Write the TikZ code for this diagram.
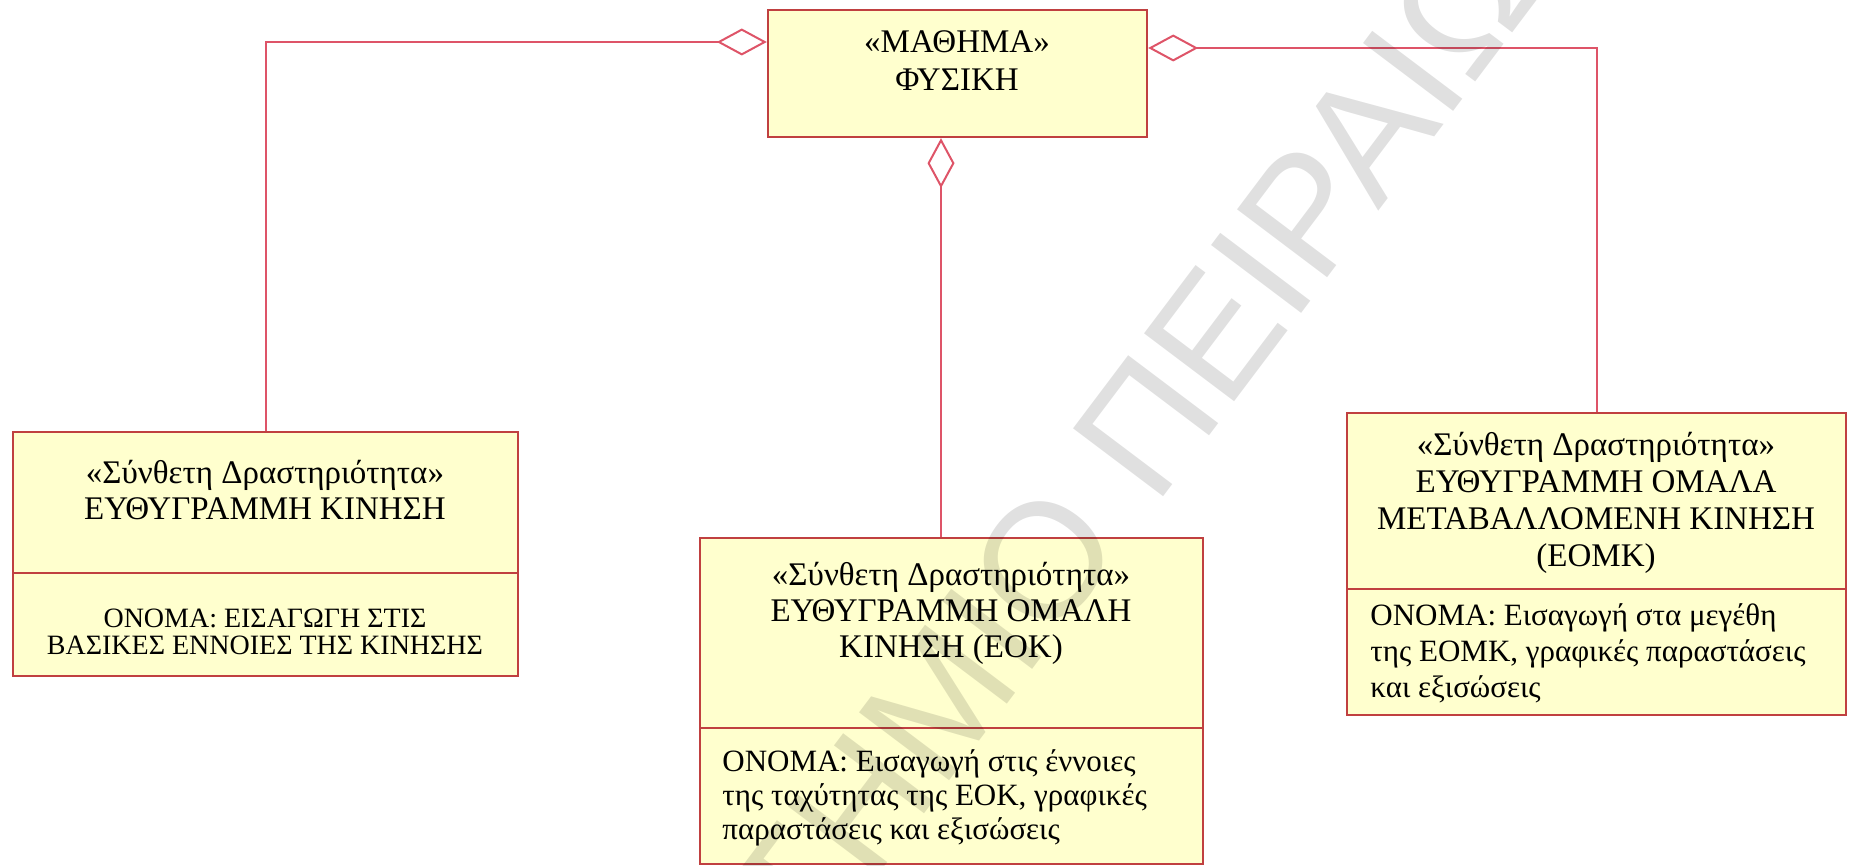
\documentclass[tikz,border=0pt]{standalone}
\usepackage{fontspec}
\setmainfont{Liberation Serif}
\newfontfamily\wmfont{Liberation Sans}
\usepackage{tikz}
\usetikzlibrary{arrows.meta}
\definecolor{boxfill}{RGB}{255,255,206}
\definecolor{boxline}{RGB}{192,64,64}
\definecolor{aggline}{RGB}{222,84,104}
\tikzset{
  umlbox/.style={draw=boxline, fill=boxfill, line width=1.2pt, inner sep=0pt},
  hdrtext/.style={align=center, inner sep=0pt, font=\fontsize{16.5}{18}\selectfont},
  attrtext/.style={align=left, anchor=west, inner sep=0pt, font=\fontsize{15.5}{17}\selectfont},
  aggr/.style={draw=aggline, line width=1pt, {Diamond[open,length=25pt,width=13.5pt]}-},
  watermark/.style={text=black, text opacity=0.12, inner sep=0pt, font=\wmfont\fontsize{82}{90}\selectfont}
}
\newcommand{\compart}[4]{ \node[umlbox, minimum width=#3, minimum height=#4] (#1) at (#2) {};}

\begin{document}
\begin{tikzpicture}[x=0.5pt,y=-0.5pt]
        \useasboundingbox (0,0) rectangle (1850,866);
        \clip (0,0) rectangle (1850,866);
        % mathima
        \compart{mathima}{957.5,73.5}{189.5pt}{63.5pt}
        \node[hdrtext, font=\fontsize{16.5}{19}\selectfont] (mathimatxt) at (957,61) {«ΜΑΘΗΜΑ»\\ΦΥΣΙΚΗ};
        % box1
        \compart{eukin}{265.5,502.5}{252.5pt}{70.5pt}
        \compart{eukinattr}{265.5,624.5}{252.5pt}{51.5pt}
        \node[hdrtext] (eukintxt) at (265,490) {«Σύνθετη Δραστηριότητα»\\ΕΥΘΥΓΡΑΜΜΗ ΚΙΝΗΣΗ};
        \node[hdrtext, font=\fontsize{14}{13.5}\selectfont] (eukinattrtxt) at (265,632) {ΟΝΟΜΑ: ΕΙΣΑΓΩΓΗ ΣΤΙΣ\\ΒΑΣΙΚΕΣ ΕΝΝΟΙΕΣ ΤΗΣ ΚΙΝΗΣΗΣ};
        % box2
        \compart{eok}{951.5,633}{251.5pt}{95pt}
        \compart{eokattr}{951.5,796}{251.5pt}{68pt}
        \node[hdrtext] (eoktxt) at (951,613) {«Σύνθετη Δραστηριότητα»\\ΕΥΘΥΓΡΑΜΜΗ ΟΜΑΛΗ\\ΚΙΝΗΣΗ (ΕΟΚ)};
        \node[attrtext] (eokattrtxt) at (722,798) {ΟΝΟΜΑ: Εισαγωγή στις έννοιες\\της ταχύτητας της ΕΟΚ, γραφικές\\παραστάσεις και εξισώσεις};
        % box3
        \compart{eomk}{1596.5,501}{249.5pt}{88pt}
        \compart{eomkattr}{1596.5,652}{249.5pt}{63pt}
        \node[hdrtext, font=\fontsize{16.5}{18.5}\selectfont] (eomktxt) at (1596,503) {«Σύνθετη Δραστηριότητα»\\ΕΥΘΥΓΡΑΜΜΗ ΟΜΑΛΑ\\ΜΕΤΑΒΑΛΛΟΜΕΝΗ ΚΙΝΗΣΗ\\(ΕΟΜΚ)};
        \node[attrtext, font=\fontsize{15.5}{18}\selectfont] (eomkattrtxt) at (1370,653) {ΟΝΟΜΑ: Εισαγωγή στα μεγέθη\\της ΕΟΜΚ, γραφικές παραστάσεις\\και εξισώσεις};
        % aggregation lines
        \coordinate (aggL) at (mathima.west |- 0,42);
        \coordinate (aggR) at (mathima.east |- 0,48);
        \coordinate (aggB) at (mathima.south -| 941,0);
        \draw[aggr] (aggL) -| (eukin.north);
        \draw[aggr] (aggR) -| (eomk.north);
        \draw[aggr] (aggB) -- (aggB |- eok.north);
        % watermark
        \node[watermark, rotate=53] (wm) at (946,691) {ΠΑΝΕΠΙΣΤΗΜΙΟ ΠΕΙΡΑΙΩΣ};
    \end{tikzpicture}
\end{document}
